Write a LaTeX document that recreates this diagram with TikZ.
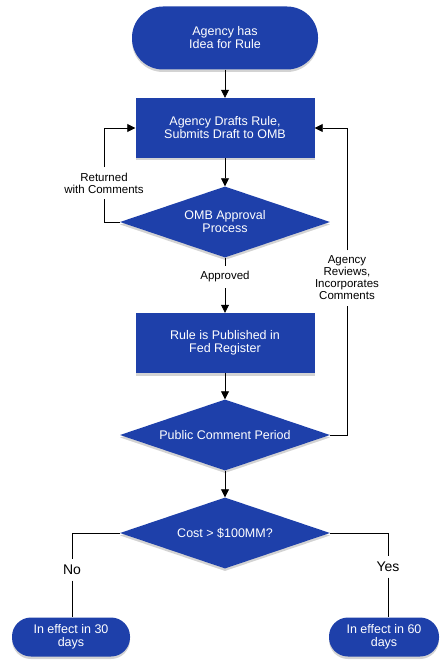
\documentclass[tikz,border=0pt]{standalone}
\usepackage{fontspec}
\setmainfont{Liberation Sans}
\usetikzlibrary{shapes.geometric,shadows,arrows.meta}
\definecolor{flowblue}{RGB}{30,64,170}
\begin{document}
\begin{tikzpicture}[x=1pt,y=-1pt,
  base/.style={fill=flowblue, text=white, font=\fontsize{12.5}{13}\selectfont, align=center, inner sep=0pt,
    drop shadow={shadow xshift=0pt,shadow yshift=-2.5pt,opacity=0.35}},
  termbox/.style={base, rectangle},
  procbox/.style={base, rectangle, minimum width=179pt, minimum height=60pt},
  decbox/.style={base, diamond, aspect=2.95, minimum width=210pt, minimum height=71pt},
  lab/.style={font=\fontsize{11.5}{12}\selectfont, align=center, inner sep=5.5pt, text=black},
  biglab/.style={lab, font=\fontsize{14}{14}\selectfont},
  conn/.style={draw=black, line width=0.8pt},
  arr/.style={conn, -{Triangle[length=8pt,width=8pt]}}
]
\useasboundingbox (0,0) rectangle (440,663);

\node[termbox, minimum width=186pt, minimum height=63pt, rounded corners=31pt] (start) at (225,38) {Agency has\\Idea for Rule};
\node[procbox] (draft) at (225,128) {Agency Drafts Rule,\\Submits Draft to OMB};
\node[decbox] (omb) at (225,222) {OMB Approval\\Process};
\node[procbox] (rule) at (225,343) {Rule is Published in\\Fed Register};
\node[decbox] (pub) at (225,435) {Public Comment Period};
\node[decbox] (cost) at (225,533) {Cost > \$100MM?};
\node[termbox, minimum width=118pt, minimum height=39pt, rounded corners=19pt] (t30) at (71,637) {In effect in 30\\days};
\node[termbox, minimum width=110pt, minimum height=39pt, rounded corners=19pt] (t60) at (384,637) {In effect in 60\\days};

\node[lab] (ret) at (104,183) {Returned\\with Comments};
\node[lab] (appr) at (225,277) {Approved};
\node[lab] (rev) at (347,278) {Agency\\Reviews,\\Incorporates\\Comments};
\node[biglab] (no) at (72,570) {No};
\node[biglab] (yes) at (388,567) {Yes};

\draw[arr] (start) -- (draft);
\draw[arr] (draft) -- (omb);
\draw[conn] (omb.west) -| (ret.south);
\draw[arr] (ret.north) |- (draft.west);
\draw[conn] (omb.south) -- (appr.north);
\draw[arr] (appr.south) -- (rule.north);
\draw[arr] (rule) -- (pub);
\draw[conn] (pub.east) -| (rev.south);
\draw[arr] (rev.north) |- (draft.east);
\draw[arr] (pub) -- (cost);
\draw[conn] (cost.west) -| (no.north);
\draw[conn] (no.south) -- (no.south |- t30.north);
\draw[conn] (cost.east) -| (yes.north);
\draw[conn] (yes.south) -- (yes.south |- t60.north);
\end{tikzpicture}
\end{document}
